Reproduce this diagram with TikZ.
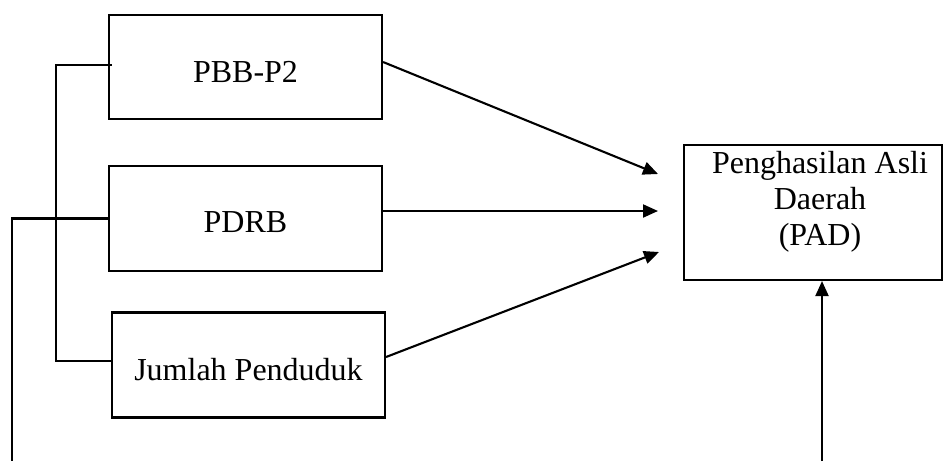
\documentclass[tikz,border=0pt]{standalone}
\usepackage{fontspec}
\setmainfont{Liberation Serif}
\usetikzlibrary{arrows.meta}
\begin{document}
\begin{tikzpicture}[x=1pt,y=-1pt,
  box/.style={draw,line width=2.1pt,inner sep=0pt,font=\fontsize{32}{36}\selectfont,text depth=0pt},
  conn/.style={line width=2.1pt},
  arr/.style={line width=2.1pt,-{Triangle[length=15pt,width=13pt]}}]
\useasboundingbox (0,0) rectangle (944,461);
\node[box,minimum width=273pt,minimum height=104pt,text height=30pt] (b1) at (245.5,67) {PBB-P2};
\node[box,minimum width=273pt,minimum height=105pt,text height=27pt] (b2) at (245.5,218.5) {PDRB};
\node[box,minimum width=273pt,minimum height=105pt,text height=30pt] (b3) at (248.5,365) {Jumlah Penduduk};
\node[draw,line width=2.1pt,minimum width=258pt,minimum height=135pt,inner sep=0pt] (pad) at (813,212.5) {};
\node[inner sep=0pt,anchor=north,align=center,font=\fontsize{32}{36}\selectfont] (padtext) at (820,151) {Penghasilan Asli\\Daerah\\(PAD)};
\coordinate (t1) at (658,174);
\coordinate (t2) at (658,211);
\coordinate (t3) at (659,252);
\draw[arr] ([yshift=5pt]b1.east) -- (t1);
\draw[arr] ([yshift=7.5pt]b2.east) -- (t2);
\draw[arr] ([yshift=8pt]b3.east) -- (t3);
\coordinate (k1) at (56,65);
\coordinate (k2) at (56,361);
\draw[conn] ([xshift=4pt,yshift=2pt]b1.west) -- (k1) -- (k2) -- ([yshift=4pt]b3.west);
\coordinate (k3) at (12,218.5);
\coordinate (k4) at (12,461);
\draw[conn] (b2.west) -- (k3) -- (k4);
\coordinate (k5) at (822,461);
\draw[arr] (k5) -- (k5 |- pad.south);
\end{tikzpicture}
\end{document}
